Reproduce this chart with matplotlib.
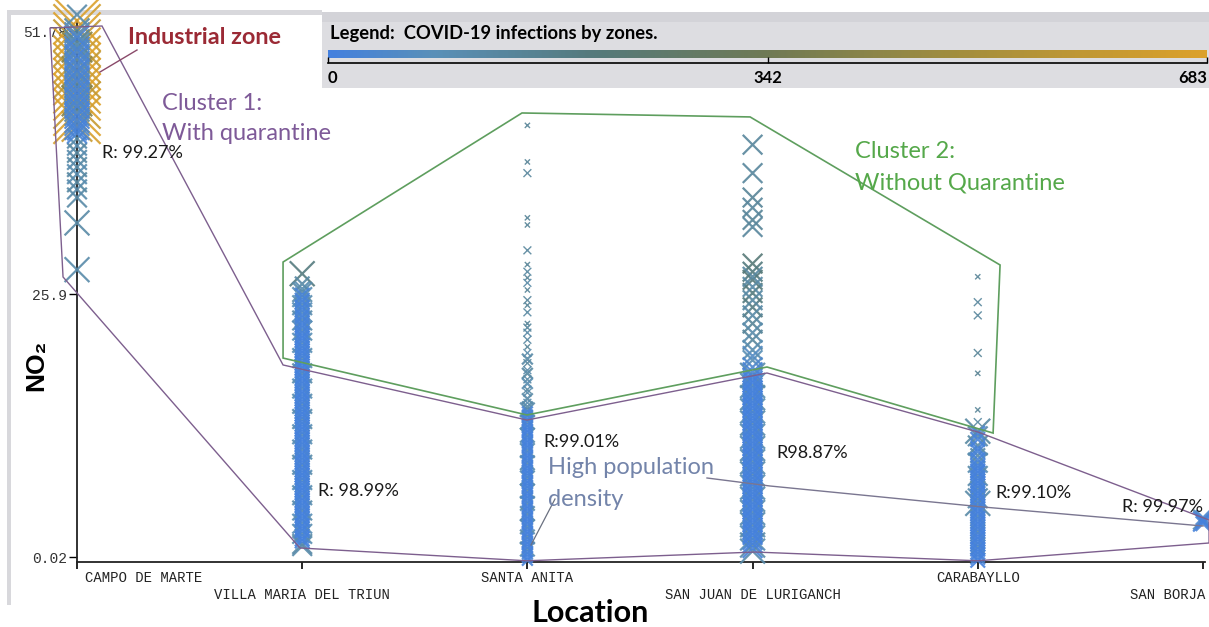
import numpy as np
import matplotlib
matplotlib.use("Agg")
import matplotlib.pyplot as plt
from matplotlib.colors import LinearSegmentedColormap
from matplotlib.lines import Line2D
from matplotlib.patches import Rectangle, Polygon

W, H = 1209, 627
plt.rcParams['font.family'] = ['Lato', 'DejaVu Sans']

# ---------------- data ----------------
locations = ["CAMPO DE MARTE", "VILLA MARIA DEL TRIUN", "SANTA ANITA",
             "SAN JUAN DE LURIGANCH", "CARABAYLLO", "SAN BORJA"]
y_ticks = [0.02, 25.9, 51.78]
y_tick_labels = ["0.02", "25.9", "51.78"]
legend_ticks = [0, 342, 683]
r_labels = ["R: 99.27%", "R: 98.99%", "R:99.01%", "R98.87%", "R:99.10%", "R: 99.97%"]

# (NO2, COVID-19 infections, error class)
campo = [(52.8, 683, 8), (52.1, 650, 8), (51.3, 683, 8), (50.6, 600, 8), (49.8, 683, 8),
         (49.0, 640, 8), (48.3, 683, 8), (47.5, 590, 8), (46.8, 683, 8), (46.0, 650, 8),
         (45.3, 683, 8), (44.5, 610, 8), (43.8, 683, 8), (43.0, 660, 8), (42.4, 620, 7),
         (50.2, 420, 7), (47.8, 450, 7), (44.9, 400, 7),
         (51.8, 130, 6), (51.4, 60, 6), (51.1, 20, 6), (50.7, 140, 6), (50.4, 80, 6),
         (50.0, 25, 6), (49.7, 50, 6), (49.3, 15, 6), (49.0, 120, 6), (48.6, 30, 6),
         (48.3, 45, 6), (47.9, 20, 6), (47.6, 60, 6), (47.2, 35, 6), (46.9, 20, 6),
         (46.5, 130, 6), (46.2, 30, 6), (45.8, 15, 6), (45.5, 40, 6), (45.1, 25, 6),
         (44.8, 60, 6), (44.4, 20, 6), (44.1, 140, 6), (43.7, 50, 6), (43.4, 15, 6),
         (43.0, 30, 6), (42.7, 45, 6), (42.3, 20, 6), (42.0, 10, 5), (41.7, 25, 5),
         (53.4, 110, 5), (41.2, 120, 5), (40.5, 100, 5), (39.8, 130, 5), (39.1, 110, 5),
         (38.4, 120, 5), (37.7, 100, 5), (36.9, 130, 5), (36.2, 110, 5), (35.4, 120, 5),
         (32.9, 120, 6), (28.3, 110, 6)]

villa = [(27.9, 200, 6), (26.9, 120, 4), (26.4, 100, 4),
         (26.1, 110, 5), (25.8, 20, 4), (25.6, 90, 5), (25.3, 15, 4), (25.1, 30, 4),
         (24.8, 100, 5), (24.6, 10, 4), (24.3, 25, 4), (24.1, 80, 5), (23.8, 15, 4),
         (23.6, 20, 4), (23.3, 110, 5), (23.1, 10, 4), (22.8, 15, 4), (22.6, 25, 4),
         (22.3, 100, 5), (22.1, 10, 4), (21.8, 20, 4), (21.6, 5, 4), (21.3, 15, 4),
         (21.1, 90, 5), (20.8, 10, 4), (20.6, 20, 4), (20.3, 5, 4), (20.1, 15, 4),
         (19.8, 10, 4), (19.6, 100, 5), (19.3, 20, 4), (19.1, 5, 4), (18.8, 15, 4),
         (18.6, 10, 4), (18.3, 25, 4), (18.1, 110, 5), (17.8, 10, 4), (17.6, 5, 4),
         (17.3, 15, 4), (17.1, 10, 4), (16.8, 20, 4), (16.6, 90, 5), (16.3, 5, 4),
         (16.1, 15, 4), (15.8, 10, 4), (15.6, 20, 4), (15.3, 5, 4), (15.1, 100, 5),
         (14.8, 15, 4), (14.6, 10, 4), (14.3, 25, 4), (14.1, 5, 4), (13.8, 15, 4),
         (13.6, 110, 5), (13.3, 10, 4), (13.1, 20, 4), (12.8, 5, 4), (12.6, 15, 4),
         (12.3, 10, 4), (12.1, 90, 5), (11.8, 20, 4), (11.6, 5, 4), (11.3, 15, 4),
         (11.1, 10, 4), (10.8, 25, 4), (10.6, 100, 5), (10.3, 5, 4), (10.1, 15, 4),
         (9.8, 10, 4), (9.6, 20, 4), (9.3, 5, 4), (9.1, 110, 5), (8.8, 15, 4),
         (8.6, 10, 4), (8.3, 20, 4), (8.1, 5, 4), (7.8, 15, 4), (7.6, 90, 5),
         (7.3, 10, 4), (7.1, 20, 4), (6.8, 5, 4), (6.6, 15, 4), (6.3, 10, 4),
         (6.1, 100, 5), (5.8, 25, 4), (5.6, 5, 4), (5.3, 15, 4), (5.1, 10, 4),
         (4.8, 20, 4), (4.6, 110, 5), (4.3, 5, 4), (4.1, 15, 4), (3.8, 10, 4),
         (3.6, 20, 4), (3.3, 90, 5), (3.1, 5, 4), (2.8, 15, 4), (2.6, 10, 4),
         (2.3, 100, 5), (2.1, 20, 4), (1.8, 5, 4), (1.6, 15, 4), (1.3, 120, 5),
         (1.1, 110, 5)]

santa_anita = [(42.5, 150, 1), (38.9, 150, 1), (37.8, 140, 2), (33.4, 150, 1), (32.7, 150, 1),
               (30.2, 140, 2), (28.8, 150, 1), (28.1, 130, 2), (27.5, 150, 1), (27.0, 120, 2),
               (26.3, 150, 1), (25.3, 140, 2), (24.8, 150, 1), (24.1, 130, 2), (23.0, 150, 1),
               (22.6, 140, 2), (22.1, 120, 2), (21.4, 130, 2), (20.7, 150, 1), (20.1, 110, 2),
               (19.5, 120, 3), (19.1, 140, 2), (18.4, 110, 2), (18.1, 130, 3), (17.5, 120, 2),
               (17.1, 100, 3), (16.5, 130, 2), (16.2, 110, 2), (15.6, 120, 3), (15.2, 100, 2),
               (14.8, 110, 3),
               (14.5, 110, 4), (14.3, 20, 3), (14.0, 10, 3), (13.8, 30, 3), (13.5, 15, 3),
               (13.3, 100, 4), (13.0, 10, 3), (12.8, 20, 3), (12.5, 5, 3), (12.3, 15, 3),
               (12.0, 110, 4), (11.8, 10, 3), (11.5, 20, 3), (11.3, 5, 3), (11.0, 15, 3),
               (10.8, 10, 3), (10.5, 100, 4), (10.3, 20, 3), (10.0, 5, 3), (9.8, 15, 3),
               (9.5, 10, 3), (9.3, 110, 4), (9.0, 20, 3), (8.8, 5, 3), (8.5, 15, 3),
               (8.3, 10, 3), (8.0, 20, 3), (7.8, 100, 4), (7.5, 5, 3), (7.3, 15, 3),
               (7.0, 10, 3), (6.8, 20, 3), (6.5, 110, 4), (6.3, 5, 3), (6.0, 15, 3),
               (5.8, 10, 3), (5.5, 20, 3), (5.3, 100, 4), (5.0, 5, 3), (4.8, 15, 3),
               (4.5, 10, 3), (4.3, 110, 4), (4.0, 20, 3), (3.8, 5, 3), (3.5, 15, 3),
               (3.3, 10, 3), (3.0, 100, 4), (2.8, 20, 3), (2.5, 5, 3), (2.3, 15, 3),
               (2.0, 110, 4), (1.8, 10, 3), (1.5, 20, 3), (1.3, 5, 3), (1.0, 15, 3),
               (0.8, 100, 4), (0.5, 10, 3), (0.3, 20, 3), (0.0, 5, 3), (-0.3, 15, 3)]

san_juan = [(40.6, 140, 5), (37.8, 140, 5), (35.4, 150, 5), (34.4, 140, 5), (33.2, 150, 5),
            (32.5, 140, 5), (28.9, 220, 5), (28.1, 200, 5), (27.6, 130, 5), (27.3, 210, 5),
            (26.6, 120, 5), (26.0, 200, 5), (25.3, 130, 5), (24.6, 190, 5), (23.8, 120, 5),
            (23.0, 150, 5), (22.1, 110, 5), (21.4, 140, 5), (20.4, 100, 5), (19.8, 60, 5),
            (19.4, 90, 5), (18.7, 40, 5),
            (18.2, 20, 5), (17.9, 110, 6), (17.7, 10, 5), (17.4, 15, 5), (17.2, 5, 5),
            (16.9, 100, 6), (16.7, 20, 5), (16.4, 10, 5), (16.2, 15, 5), (15.9, 5, 5),
            (15.7, 110, 6), (15.4, 20, 5), (15.2, 10, 5), (14.9, 15, 5), (14.7, 5, 5),
            (14.4, 100, 6), (14.2, 20, 5), (13.9, 10, 5), (13.7, 15, 5), (13.4, 5, 5),
            (13.2, 110, 6), (12.9, 20, 5), (12.7, 10, 5), (12.4, 15, 5), (12.2, 5, 5),
            (11.9, 100, 6), (11.7, 20, 5), (11.4, 10, 5), (11.2, 15, 5), (10.9, 5, 5),
            (10.7, 110, 6), (10.4, 20, 5), (10.2, 10, 5), (9.9, 15, 5), (9.7, 5, 5),
            (9.4, 100, 6), (9.2, 20, 5), (8.9, 10, 5), (8.7, 15, 5), (8.4, 5, 5),
            (8.2, 110, 6), (7.9, 20, 5), (7.7, 10, 5), (7.4, 15, 5), (7.2, 5, 5),
            (6.9, 100, 6), (6.7, 20, 5), (6.4, 10, 5), (6.2, 15, 5), (5.9, 5, 5),
            (5.7, 110, 6), (5.4, 20, 5), (5.2, 10, 5), (4.9, 15, 5), (4.7, 5, 5),
            (4.4, 100, 6), (4.2, 20, 5), (3.9, 10, 5), (3.7, 15, 5), (3.4, 5, 5),
            (3.2, 110, 6), (2.9, 20, 5), (2.7, 10, 5), (2.4, 15, 5), (2.2, 5, 5),
            (1.9, 100, 6), (1.7, 20, 5), (1.4, 10, 5), (1.2, 120, 6), (0.9, 15, 5),
            (0.6, 110, 6)]

carabayllo = [(27.6, 150, 1), (25.1, 140, 2), (23.8, 140, 2), (20.1, 150, 2), (18.1, 160, 1),
              (14.5, 150, 1), (13.3, 130, 2),
              (12.4, 130, 6), (12.2, 20, 4), (11.9, 110, 5), (11.6, 15, 4), (11.0, 120, 5),
              (10.7, 10, 4), (10.4, 20, 4), (10.0, 110, 4), (9.6, 15, 4), (9.3, 100, 5),
              (9.0, 10, 4), (8.8, 20, 4), (8.5, 5, 4), (8.3, 15, 4), (8.0, 110, 5),
              (7.8, 10, 4), (7.5, 20, 4), (7.3, 5, 4), (7.0, 15, 4), (6.8, 100, 4),
              (6.5, 10, 4), (6.3, 20, 4), (6.0, 5, 4), (5.8, 110, 5), (5.5, 15, 4),
              (5.3, 120, 6), (5.0, 10, 4), (4.8, 20, 4), (4.5, 5, 4), (4.3, 15, 4),
              (4.0, 100, 4), (3.8, 10, 4), (3.5, 20, 4), (3.3, 5, 4), (3.0, 15, 4),
              (2.8, 10, 4), (2.5, 110, 4), (2.3, 20, 4), (2.0, 5, 4), (1.8, 15, 4),
              (1.5, 10, 4), (1.3, 20, 4), (1.0, 100, 4), (0.8, 5, 4), (0.5, 15, 4),
              (0.3, 10, 4), (0.0, 20, 4), (-0.3, 5, 4)]

san_borja = [(3.9, 30, 4), (3.7, 110, 5), (3.5, 10, 5), (3.3, 20, 4), (3.6, 5, 4)]

# cluster outlines (location index, NO2)
cluster1 = [(-0.12, 52.09), (0.111, 52.28), (0.915, 18.92), (1.998, 13.5), (3.064, 18.13),
            (4.001, 12.32), (5.027, 3.66), (5.027, 1.40), (4.001, -0.35), (3.011, 0.51),
            (1.998, -0.35), (0.99, 0.91), (-0.062, 27.58)]
cluster2 = [(0.915, 29.05), (1.976, 43.72), (2.989, 43.33), (4.099, 28.76), (4.068, 12.22),
            (3.064, 18.72), (1.998, 14.0), (0.915, 19.6)]

# ---------------- style ----------------
cmap = LinearSegmentedColormap.from_list(
    "covid", [(0.0, "#4480de"), (0.12, "#5a90b8"), (0.3, "#557a7c"),
              (0.5, "#6f7a55"), (0.72, "#a38e3e"), (1.0, "#dca12b")])
err_sizes = {1: 14, 2: 32, 3: 60, 4: 110, 5: 200, 6: 320, 7: 480, 8: 1150}


def fx(x):
    return x / W


def fy(y):
    return 1 - y / H


fig = plt.figure(figsize=(W / 100, H / 100), dpi=100)
fig.patch.set_facecolor("white")

# gray frame remnants
fig.add_artist(Rectangle((fx(7), fy(605)), 4 / W, 592 / H, transform=fig.transFigure,
                         color="#d8d8dc", lw=0, zorder=0))
fig.add_artist(Rectangle((fx(7), fy(15)), 315 / W, 5 / H, transform=fig.transFigure,
                         color="#d8d8dc", lw=0, zorder=0))

ax = fig.add_axes([fx(77), fy(562), (1205 - 77) / W, (562 - 20) / H])
ax.set_xlim(0, 5.009)
ax.set_ylim(-0.47, 52.87)
for s in ["top", "right"]:
    ax.spines[s].set_visible(False)
for s in ["left", "bottom"]:
    ax.spines[s].set_linewidth(1.3)
    ax.spines[s].set_color("#222222")
ax.set_facecolor("none")

ax.set_yticks(y_ticks)
ax.set_yticklabels(y_tick_labels, family="Liberation Mono", fontsize=10.5, color="#333333")
ax.set_xticks(range(len(locations)))
ax.set_xticklabels([""] * len(locations))
ax.tick_params(axis="y", length=6, width=1, pad=1)
ax.tick_params(axis="x", length=5, width=1.2)

# location labels (alternating rows)
for i, name in enumerate(locations):
    yrow = 578 if i % 2 == 0 else 595
    ha = "center"
    xpos = i
    if i == 0:
        ha = "left"
        xpos = 8 / 225.2
    if i == len(locations) - 1:
        ha = "right"
        xpos = len(locations) - 1 + 2 / 225.2
    ax.text(xpos, -(yrow - 562) / (562 - 20), name, family="Liberation Mono", fontsize=10,
            color="#222222", ha=ha, va="center", transform=ax.get_xaxis_transform())

# scatter
for idx, pts in enumerate([campo, villa, santa_anita, san_juan, carabayllo, san_borja]):
    pts_sorted = sorted(pts, key=lambda p: -p[1])
    vals = np.array([p[0] for p in pts_sorted])
    cases = np.array([p[1] for p in pts_sorted])
    sizes = np.array([err_sizes[p[2]] for p in pts_sorted])
    lws = np.array([1.0 if p[2] <= 2 else 1.6 for p in pts_sorted])
    ax.scatter(np.full(len(vals), idx), vals, c=cases, cmap=cmap, vmin=0, vmax=683,
               marker="x", s=sizes, linewidths=lws, alpha=0.9, clip_on=False, zorder=3)

# clusters
ax.add_patch(Polygon(cluster1, closed=True, fill=False, ec="#7d5f8e", lw=1.0,
                     clip_on=False, zorder=4))
ax.add_patch(Polygon(cluster2, closed=True, fill=False, ec="#5e9e5e", lw=1.2,
                     clip_on=False, zorder=4))

# annotation lines (figure pixels)
fig.add_artist(Line2D([fx(100), fx(137)], [fy(72), fy(50)], color="#8a4a6a", lw=1.0))
fig.add_artist(Line2D([fx(555), fx(531)], [fy(499), fy(545)], color="#6a7080", lw=0.9))
fig.add_artist(Line2D([fx(707), fx(770), fx(983), fx(1203)],
                      [fy(478), fy(486), fy(507), fy(526)], color="#7a7690", lw=1.0))

# texts
fig.text(fx(128), fy(37), "Industrial zone", color="#9b2a35", fontsize=16.8, weight="bold",
         ha="left", va="center")
fig.text(fx(162), fy(104), "Cluster 1:", color="#7e5a98", fontsize=17, ha="left", va="center")
fig.text(fx(162), fy(134), "With quarantine", color="#7e5a98", fontsize=17, ha="left", va="center")
fig.text(fx(855), fy(152), "Cluster 2:", color="#55a84a", fontsize=17, ha="left", va="center")
fig.text(fx(855), fy(183), "Without Quarantine", color="#55a84a", fontsize=17, ha="left", va="center")
fig.text(fx(548), fy(468), "High population", color="#7384aa", fontsize=17, ha="left", va="center")
fig.text(fx(548), fy(499), "density", color="#7384aa", fontsize=17, ha="left", va="center")

r_pos = [(102, 153), (318, 491), (543, 442), (776, 453), (995, 493), (1122, 507)]
for lab, (px, py) in zip(r_labels, r_pos):
    fig.text(fx(px), fy(py), lab, color="#1a1a1a", fontsize=13, ha="left", va="center")

fig.text(fx(590), fy(613), "Location", fontsize=22, weight="bold", ha="center", va="center")
fig.text(fx(36), fy(365), "NO₂", fontsize=19, weight="bold", ha="center", va="center",
         rotation=90, family=["Liberation Sans", "DejaVu Sans"])

# legend box
fig.add_artist(Rectangle((fx(322), fy(88)), (1209 - 322) / W, (88 - 12) / H,
                         transform=fig.transFigure, color="#dddde1", lw=0, zorder=1))
fig.add_artist(Rectangle((fx(322), fy(22)), (1209 - 322) / W, 10 / H,
                         transform=fig.transFigure, color="#d3d3d8", lw=0, zorder=1))
fig.text(fx(330), fy(33), "Legend:  COVID-19 infections by zones.", fontsize=13.2,
         weight="bold", ha="left", va="center", zorder=5)

lax = fig.add_axes([fx(328), fy(63), (1207 - 328) / W, (63 - 49) / H])
lax.set_zorder(5)
lax.patch.set_visible(False)
grad = np.linspace(legend_ticks[0], legend_ticks[-1], 400)[None, :]
lax.imshow(grad, cmap=cmap, vmin=0, vmax=683, aspect="auto",
           extent=(legend_ticks[0], legend_ticks[-1], 0.36, 0.93))
lax.set_xlim(legend_ticks[0], legend_ticks[-1])
lax.set_ylim(0, 1)
for s in ["top", "right", "left"]:
    lax.spines[s].set_visible(False)
lax.spines["bottom"].set_linewidth(1.2)
lax.set_yticks([])
lax.set_xticks(legend_ticks)
lax.set_xticklabels([""] * 3)
lax.tick_params(axis="x", direction="in", length=4, width=1)
for v, ha in zip(legend_ticks, ["left", "center", "right"]):
    lax.text(v, -(78 - 63) / 14, str(v), fontsize=12, weight="bold", ha=ha, va="center",
             transform=lax.get_xaxis_transform())

fig.savefig("out.png", dpi=100)
